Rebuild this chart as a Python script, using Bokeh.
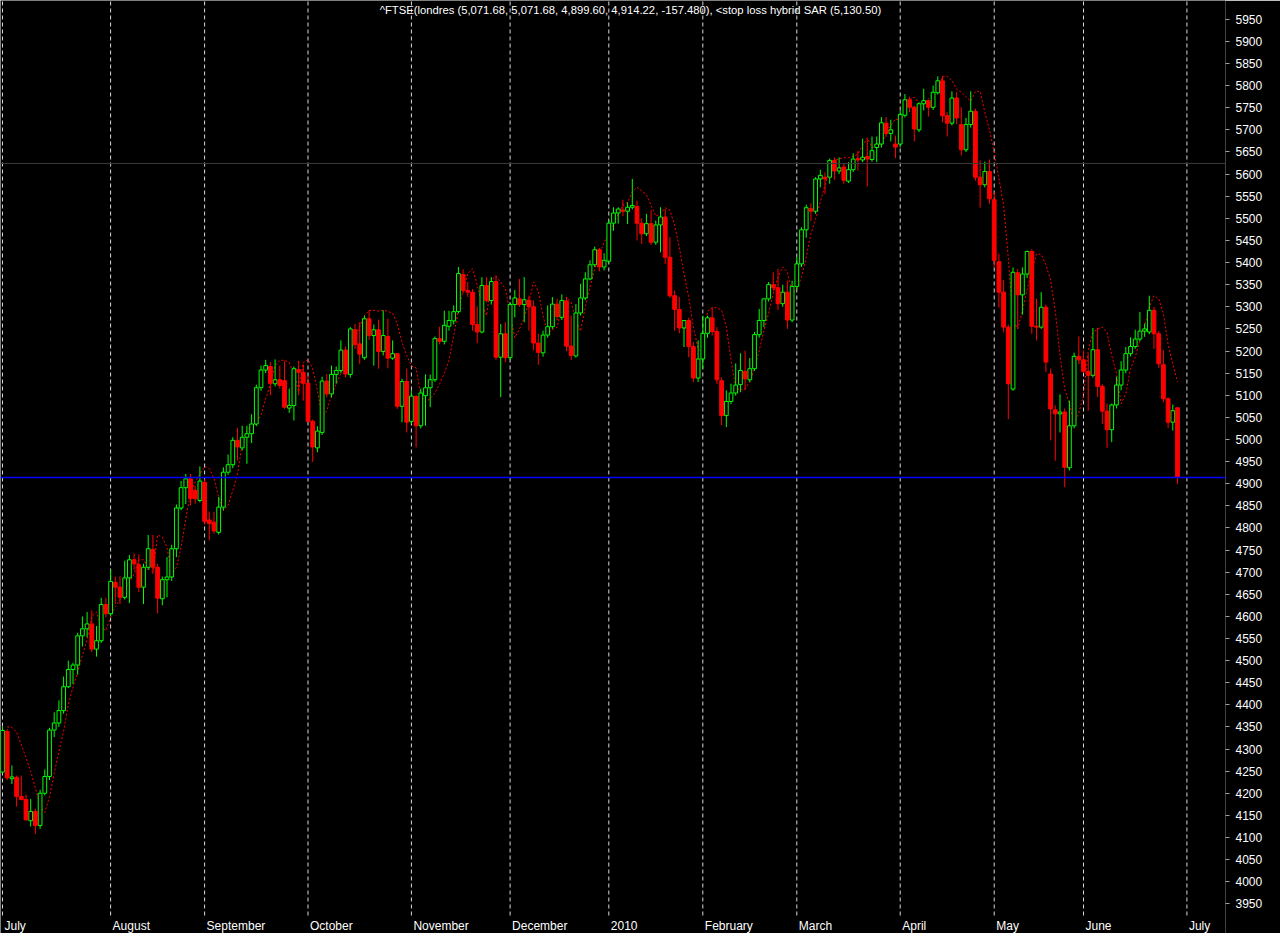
from bokeh.plotting import figure
from bokeh.models import Range1d, FixedTicker, Span, Label, ColumnDataSource
from bokeh.core.properties import value
from bokeh.embed import file_html
from bokeh.resources import INLINE

# ---------------- data (FTSE daily, Jul 2009 - Jun 2010) ----------------
opens = [
    4248,4340,4233,4236,4193,4186,4138,4159,4127,4200,4238,4343,4359,4387,4441,4480,4490,4556,4572,4583,4526,4545,4627,
    4606,4677,4666,4643,4687,4728,4717,4666,4711,4751,4711,4640,4683,4689,4753,4845,4891,4911,4885,4862,
    4903,4818,4813,4790,4847,4926,4943,4998,4981,5005,5013,5035,5117,5157,5165,5126,5135,5133,5071,5077,5158,5152,
    5127,5041,4981,5016,5132,5103,5147,5156,5202,5147,5248,5216,5185,5273,5235,5248,5199,5233,5184,5194,5075,5131,
    5041,5097,5031,5099,5117,5135,5228,5222,5256,5268,5289,5373,5337,5333,5260,5243,5348,5314,5357,5186,5239,
    5185,5305,5318,5305,5315,5300,5218,5196,5236,5255,5306,5276,5313,5211,5189,5286,5320,5363,5395,5429,5390,
    5403,5489,5512,5519,5516,5525,5527,5489,5465,5488,5446,5485,5503,5412,5325,5294,5252,5269,5210,5139,
    5182,5240,5275,5244,5133,5054,5086,5105,5124,5154,5135,5160,5237,5269,5318,5350,5343,5307,5333,5270,
    5346,5397,5474,5522,5516,5589,5593,5593,5631,5607,5616,5584,5610,5635,5632,5640,5633,5660,5668,5715,5692,5668,
    5668,5733,5768,5751,5700,5759,5766,5751,5784,5811,5732,5715,5772,5712,5655,5712,5742,5593,5576,5606,
    5542,5402,5333,5254,5114,5377,5327,5374,5425,5256,5254,5299,5148,5067,5058,5062,4936,5031,5188,
    5180,5154,5145,5203,5120,5064,5022,5078,5123,5157,5194,5210,5227,5245,5243,5292,5239,5169,5092,5039,5071.68,
]
highs = [
    4351,4345,4263,4240,4240,4197,4187,4165,4208,4254,4348,4383,4410,4464,4500,4495,4563,4600,4610,4613,4578,4642,4642,
    4705,4690,4692,4726,4739,4742,4740,4719,4784,4784,4719,4690,4734,4762,4853,4906,4922,4922,4895,4939,
    4910,4837,4836,4870,4937,4966,5005,5026,5031,5031,5057,5124,5167,5180,5175,5181,5167,5177,5115,5165,5178,5170,
    5145,5045,5030,5142,5148,5167,5165,5224,5210,5254,5261,5265,5280,5292,5260,5271,5292,5273,5224,5195,5137,5160,
    5111,5100,5115,5147,5147,5233,5255,5291,5291,5303,5390,5385,5356,5340,5301,5367,5367,5367,5371,5261,5265,
    5310,5338,5363,5367,5325,5314,5239,5246,5303,5322,5318,5328,5322,5280,5306,5352,5378,5405,5436,5433,5421,
    5495,5525,5525,5542,5536,5589,5540,5500,5510,5518,5495,5525,5521,5458,5337,5322,5270,5275,5220,5224,
    5280,5280,5299,5254,5140,5111,5126,5172,5195,5201,5184,5243,5295,5318,5356,5378,5386,5350,5359,5359,
    5412,5480,5531,5534,5593,5610,5604,5635,5638,5638,5625,5627,5647,5652,5680,5680,5685,5685,5729,5729,5723,5687,
    5744,5781,5775,5755,5762,5793,5768,5800,5821,5821,5740,5787,5785,5751,5727,5787,5748,5631,5628,5633,
    5560,5420,5361,5260,5389,5385,5389,5427,5430,5318,5333,5305,5160,5077,5102,5070,5088,5196,5233,
    5201,5193,5252,5252,5125,5081,5081,5142,5177,5209,5231,5248,5288,5262,5325,5300,5245,5202,5095,5079,5071.68,
]
lows = [
    4245,4230,4221,4170,4184,4138,4125,4108,4120,4195,4230,4327,4350,4380,4438,4447,4468,4532,4553,4519,4509,4540,4598,
    4600,4628,4628,4638,4630,4705,4655,4628,4705,4696,4607,4625,4643,4680,4734,4840,4854,4851,4855,4858,
    4808,4772,4787,4785,4840,4920,4935,4952,4975,4945,4992,5030,5110,5150,5100,5120,5115,5069,5060,5043,5100,5088,
    5040,4949,4971,5010,5095,5095,5126,5150,5140,5140,5205,5171,5180,5225,5167,5160,5190,5161,5180,5069,5039,5016,
    5035,4982,5025,5031,5073,5130,5215,5215,5246,5260,5285,5330,5322,5246,5218,5240,5310,5305,5180,5096,5175,
    5180,5276,5300,5265,5246,5201,5169,5187,5230,5250,5270,5270,5200,5180,5185,5280,5315,5360,5390,5380,5382,
    5400,5472,5488,5505,5487,5520,5450,5442,5460,5440,5440,5423,5397,5320,5246,5240,5209,5186,5130,5130,
    5160,5230,5235,5125,5032,5028,5080,5099,5107,5111,5130,5155,5230,5254,5312,5335,5293,5300,5250,5265,
    5340,5390,5456,5494,5510,5570,5555,5578,5587,5600,5578,5580,5605,5608,5627,5572,5628,5627,5660,5684,5674,5636,
    5660,5728,5740,5674,5695,5744,5730,5745,5780,5717,5685,5710,5713,5642,5650,5705,5585,5524,5570,5533,
    5389,5298,5242,5046,5110,5250,5282,5365,5239,5224,5250,5152,4998,4952,5016,4892,4930,5025,5170,
    5150,5065,5140,5096,5035,4981,4994,5070,5111,5150,5188,5205,5222,5232,5238,5205,5162,5084,5026,5020,4899.60,
]
closes = [
    4342,4235,4237,4193,4186,4140,4159,4127,4200,4238,4343,4359,4387,4441,4480,4490,4556,4572,4583,4526,4545,4627,4606,
    4679,4666,4643,4687,4728,4719,4666,4711,4753,4711,4641,4683,4689,4753,4845,4891,4911,4866,4866,4906,
    4815,4810,4793,4847,4926,4943,4998,4983,5005,5013,5035,5117,5157,5167,5127,5135,5122,5073,5077,5160,5152,5127,
    5041,4983,5019,5132,5103,5147,5156,5202,5148,5250,5215,5193,5273,5235,5248,5199,5235,5184,5194,5075,5131,5039,
    5098,5031,5105,5117,5135,5228,5222,5258,5269,5289,5375,5337,5333,5260,5243,5348,5314,5357,5186,5239,5185,
    5305,5320,5305,5316,5300,5218,5197,5236,5255,5306,5278,5314,5211,5190,5286,5320,5363,5395,5429,5390,5405,
    5489,5512,5521,5516,5525,5529,5489,5465,5488,5446,5485,5503,5412,5325,5294,5252,5269,5210,5139,5182,
    5240,5275,5244,5135,5054,5086,5105,5123,5156,5137,5160,5237,5269,5318,5350,5343,5307,5333,5270,5346,
    5397,5474,5524,5516,5589,5597,5589,5631,5607,5614,5586,5610,5634,5632,5638,5634,5653,5668,5716,5692,5700,5661,
    5735,5768,5751,5702,5759,5766,5751,5785,5811,5732,5715,5772,5727,5655,5712,5742,5593,5576,5606,5544,
    5405,5333,5254,5126,5378,5327,5374,5425,5256,5254,5299,5175,5069,5058,5062,4937,5031,5188,5180,
    5154,5145,5203,5120,5064,5022,5078,5123,5157,5194,5210,5227,5245,5250,5292,5239,5171,5092,5039,5065,4914.22,
]
NaN = float("nan")
sar = [
    NaN,4350,4349,4338,4310,4280,4250,4212,4170,4157,4192,4245,4295,4340,4400,4440,4475,4512,4548,4600,4610,4575,4568,
    4598,4622,4638,4660,4678,4696,4728,4728,4710,4700,4784,4779,4756,4697,4711,4756,4821,4880,4903,4922,
    4939,4934,4912,4869,4839,4851,4885,4922,4990,5022,5032,5035,5056,5092,5125,5167,5179,5179,5174,5149,5108,5174,
    5181,5160,5111,5050,5065,5100,5125,5150,5175,5195,5230,5255,5280,5292,5292,5290,5292,5290,5285,5262,5220,5190,
    5166,5162,5100,5085,5092,5105,5126,5150,5179,5235,5292,5337,5375,5386,5350,5305,5280,5360,5369,5356,5340,
    5285,5230,5250,5275,5310,5356,5335,5280,5240,5248,5254,5300,5322,5310,5270,5245,5300,5345,5385,5420,5445,
    5465,5487,5510,5530,5536,5560,5570,5562,5553,5529,5505,5510,5524,5518,5485,5435,5375,5322,5254,5205,
    5195,5290,5298,5298,5292,5254,5180,5118,5111,5115,5130,5160,5201,5246,5285,5330,5367,5390,5378,5330,
    5340,5367,5412,5465,5499,5537,5575,5610,5630,5635,5637,5637,5640,5645,5665,5682,5660,5662,5670,5690,5710,5725,
    5720,5740,5768,5774,5760,5759,5770,5781,5789,5821,5821,5812,5792,5785,5775,5765,5787,5787,5740,5700,
    5650,5590,5530,5410,5269,5250,5290,5340,5380,5420,5418,5395,5360,5290,5190,5114,5081,5035,5060,
    5100,5200,5242,5250,5254,5242,5190,5150,5081,5103,5160,5186,5225,5255,5300,5325,5318,5284,5215,5170,5130.50,
]
month_names = ["July", "August", "September", "October", "November", "December",
               "2010", "February", "March", "April", "May", "June", "July"]
month_start = [0, 23, 43, 65, 87, 108, 129, 149, 169, 191, 211, 230, 252]
y_ticks = list(range(3950, 6000, 50))
last_close = 4914.22
ref_level = 5624
title_text = ("^FTSE(londres (5,071.68, 5,071.68, 4,899.60, 4,914.22, -157.480), "
              "<stop loss hybrid SAR (5,130.50)")

# ---------------- layout ----------------
W, H = 1280, 933
RIGHT = 55
X0, X1 = -0.4255, 260.21
Y_BOTTOM, Y_FRAME_BOTTOM, Y1 = 3883.0, 3923.7, 5992.5   # lower strip holds month names
Y_LABEL = 3900
FONT = "Liberation Sans"
px_per_idx = (W - RIGHT) / (X1 - X0)

n = len(closes)
idx = list(range(n))
up = [closes[i] >= opens[i] for i in idx]
ui = [i for i in idx if up[i]]
di = [i for i in idx if not up[i]]

up_src = ColumnDataSource(dict(
    x=ui, o=[opens[i] for i in ui], c=[closes[i] for i in ui],
    h=[highs[i] for i in ui], l=[lows[i] for i in ui]))
dn_src = ColumnDataSource(dict(
    x=di, o=[opens[i] for i in di], c=[closes[i] for i in di],
    h=[highs[i] for i in di], l=[lows[i] for i in di]))

p = figure(width=W, height=H, x_range=Range1d(X0, X1), y_range=Range1d(Y_BOTTOM, Y1),
           output_backend="svg", toolbar_location=None, y_axis_location="right",
           background_fill_color="black", border_fill_color="black",
           min_border_left=0, min_border_top=0, min_border_right=RIGHT,
           min_border_bottom=0, x_axis_location=None)
p.outline_line_color = None
p.xgrid.grid_line_color = None
p.ygrid.grid_line_color = None

# dashed vertical month dividers
p.segment(x0=month_start, y0=[Y_FRAME_BOTTOM] * len(month_start),
          x1=month_start, y1=[Y1] * len(month_start),
          line_color="#d8d8d8", line_dash="4 3", line_width=1)

# reference lines
p.add_layout(Span(location=ref_level, dimension="width", line_color="#3a3a3a", line_width=1))
p.add_layout(Span(location=last_close, dimension="width", line_color="#0000ff", line_width=1.5))

# SAR
p.line(idx, sar, line_color="#ff0000", line_width=1, line_dash="2 2")

# candles
GREEN, RED = "#00ff00", "#ff0000"
p.segment(x0="x", y0="h", x1="x", y1="c", source=up_src, line_color=GREEN, line_width=1)
p.segment(x0="x", y0="o", x1="x", y1="l", source=up_src, line_color=GREEN, line_width=1)
p.segment(x0="x", y0="h", x1="x", y1="l", source=dn_src, line_color=RED, line_width=1)
p.vbar(x="x", width=0.8, top="c", bottom="o", source=up_src,
       fill_color="black", line_color=GREEN, line_width=1)
p.vbar(x="x", width=0.8, top="o", bottom="c", source=dn_src,
       fill_color=RED, line_color=RED, line_width=1)

# title inside the plot
p.add_layout(Label(x=133.6, y=5972, text=title_text, text_color="white",
                   text_font=FONT, text_font_size="11.25px",
                   text_align="center", text_baseline="middle"))

# month names just right of each divider
p.text(x=[m + 2 / px_per_idx for m in month_start], y=[Y_LABEL] * len(month_start),
       text=month_names, text_color="white", text_font=value(FONT),
       text_font_size="12px", text_align="left", text_baseline="middle")

# right price axis
p.yaxis.ticker = FixedTicker(ticks=y_ticks)
p.yaxis.major_label_text_color = "white"
p.yaxis.major_label_text_font = FONT
p.yaxis.major_label_text_font_size = "12px"
p.yaxis.axis_line_color = None
p.yaxis.major_tick_line_color = "#a0a0a0"
p.yaxis.major_tick_in = 0
p.yaxis.major_tick_out = 4
p.yaxis.minor_tick_line_color = None
p.yaxis.major_label_standoff = 6

open("out.html", "w").write(file_html(p, INLINE))
